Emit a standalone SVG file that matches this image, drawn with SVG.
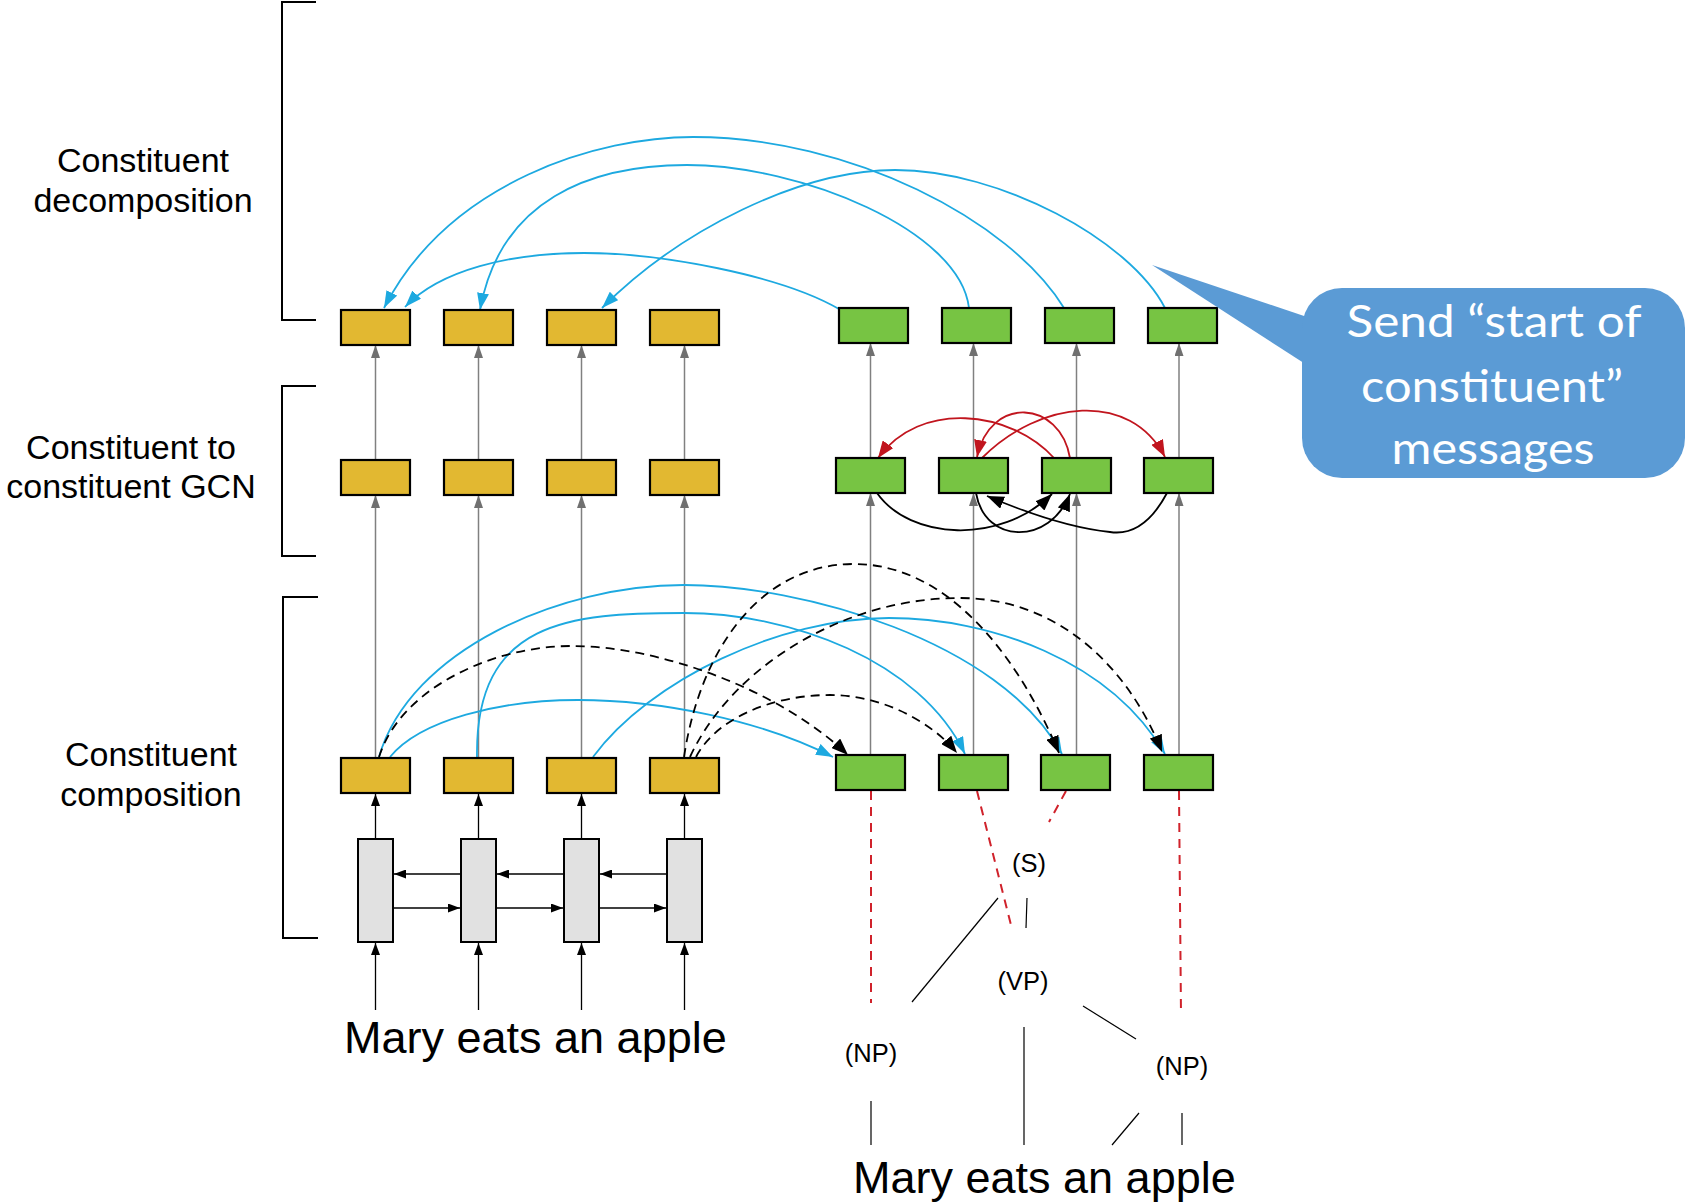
<svg xmlns="http://www.w3.org/2000/svg" width="1685" height="1202" viewBox="0 0 1685 1202">
<style>
.lbl{font-family:"Liberation Sans",Arial,sans-serif;font-size:34px;fill:#000;text-anchor:middle}
.words{font-family:"Liberation Sans",Arial,sans-serif;font-size:45px;fill:#000}
.tag{font-family:"Liberation Sans",Arial,sans-serif;font-size:25.5px;fill:#000;text-anchor:middle}
.call{font-family:Lato,"Open Sans",sans-serif;font-size:45px;fill:#fff;text-anchor:middle}
.yb{fill:#E2B831;stroke:#000;stroke-width:2.2}
.gb{fill:#77C443;stroke:#000;stroke-width:2.2}
.lstm{fill:#E1E1E1;stroke:#000;stroke-width:2}
.up{stroke:#808080;stroke-width:1.5;fill:none;marker-end:url(#ag)}
.blue{stroke:#1DA9E0;stroke-width:1.8;fill:none;marker-end:url(#ab)}
.dash{stroke:#000;stroke-width:1.8;fill:none;stroke-dasharray:9 6;marker-end:url(#ak)}
.red{stroke:#C1151E;stroke-width:1.8;fill:none;marker-end:url(#ar)}
.blk{stroke:#000;stroke-width:1.8;fill:none;marker-end:url(#ak)}
.thin{stroke:#000;stroke-width:1.3;fill:none;marker-end:url(#as)}
.tree{stroke:#000;stroke-width:1.2}
.rd{stroke:#D0222B;stroke-width:2;stroke-dasharray:9 7}
.brk{stroke:#000;stroke-width:2;fill:none}
</style>
<defs>
<marker id="ab" markerUnits="userSpaceOnUse" markerWidth="18" markerHeight="12" refX="17" refY="6" orient="auto"><path d="M0,0 L17,6 L0,12 z" fill="#1DA9E0"/></marker>
<marker id="ak" markerUnits="userSpaceOnUse" markerWidth="18" markerHeight="13" refX="17" refY="6.5" orient="auto"><path d="M0,0 L17,6.5 L0,13 z" fill="#000"/></marker>
<marker id="ar" markerUnits="userSpaceOnUse" markerWidth="18" markerHeight="13" refX="17" refY="6.5" orient="auto"><path d="M0,0 L17,6.5 L0,13 z" fill="#C1151E"/></marker>
<marker id="ag" markerUnits="userSpaceOnUse" markerWidth="13" markerHeight="9" refX="13" refY="4.5" orient="auto"><path d="M0,0 L13,4.5 L0,9 z" fill="#707070"/></marker>
<marker id="as" markerUnits="userSpaceOnUse" markerWidth="12" markerHeight="9" refX="12" refY="4.5" orient="auto"><path d="M0,0 L12,4.5 L0,9 z" fill="#000"/></marker>
</defs>

<!-- layer brackets and labels -->
<g id="layer-labels">
<path class="brk" d="M316,2 H282 V320 H316"/>
<path class="brk" d="M316,386 H282 V556 H316"/>
<path class="brk" d="M318,597 H283 V938 H318"/>
<text class="lbl" x="143" y="172">Constituent</text>
<text class="lbl" x="143" y="212">decomposition</text>
<text class="lbl" x="131" y="459">Constituent to</text>
<text class="lbl" x="131" y="498">constituent GCN</text>
<text class="lbl" x="151" y="766">Constituent</text>
<text class="lbl" x="151" y="806">composition</text>
</g>

<!-- connectors -->
<g id="connectors">
<!-- vertical feed-forward arrows -->
<line class="up" x1="375.5" y1="758" x2="375.5" y2="495"/>
<line class="up" x1="478.5" y1="758" x2="478.5" y2="495"/>
<line class="up" x1="581.5" y1="758" x2="581.5" y2="495"/>
<line class="up" x1="684.5" y1="758" x2="684.5" y2="495"/>
<line class="up" x1="375.5" y1="460" x2="375.5" y2="345"/>
<line class="up" x1="478.5" y1="460" x2="478.5" y2="345"/>
<line class="up" x1="581.5" y1="460" x2="581.5" y2="345"/>
<line class="up" x1="684.5" y1="460" x2="684.5" y2="345"/>
<line class="up" x1="870.5" y1="755" x2="870.5" y2="493"/>
<line class="up" x1="973.5" y1="755" x2="973.5" y2="493"/>
<line class="up" x1="1076.5" y1="755" x2="1076.5" y2="493"/>
<line class="up" x1="1179" y1="755" x2="1179" y2="493"/>
<line class="up" x1="870.5" y1="458" x2="870.5" y2="343"/>
<line class="up" x1="973.5" y1="458" x2="973.5" y2="343"/>
<line class="up" x1="1076.5" y1="458" x2="1076.5" y2="343"/>
<line class="up" x1="1179" y1="458" x2="1179" y2="343"/>

<!-- decomposition messages -->
<path class="blue" d="M1064,308 C1010,220 850,137 693,137 C600,137 450,180 384,308"/>
<path class="blue" d="M969,308 C960,230 800,165 687,165 C590,165 500,200 480,310"/>
<path class="blue" d="M1165,308 C1130,240 1000,170 895,170 C800,170 680,230 602,308"/>
<path class="blue" d="M839,309 C780,275 660,253 584,253 C510,253 440,270 405,307"/>

<!-- GCN edges -->
<path class="red" d="M1054,458 C1010,410 920,400 878,458"/>
<path class="red" d="M1070,458 C1060,400 990,395 977,457"/>
<path class="red" d="M982,458 C1040,400 1130,390 1165,457"/>
<path class="blk" d="M877,493 C910,540 1000,545 1052,494"/>
<path class="blk" d="M976,493 C985,545 1050,545 1070,494"/>
<path class="blk" d="M1167,493 C1150,525 1130,535 1110,532 C1070,528 1020,510 987,496"/>

<!-- composition messages -->
<path class="blue" d="M379,757 C410,650 560,585 684,585 C800,585 1000,640 1062,754"/>
<path class="blue" d="M477,757 C475,620 570,613 684,613 C790,613 920,660 965,754"/>
<path class="blue" d="M593,757 C650,680 780,618 889,618 C990,618 1110,660 1165,754"/>
<path class="blue" d="M390,757 C420,720 500,700 578,700 C660,700 760,720 833,757"/>
<path class="dash" d="M379,757 C400,690 490,646 572,646 C660,646 780,690 848,755"/>
<path class="dash" d="M684,757 C700,650 760,564 854,564 C950,564 1020,660 1059,753"/>
<path class="dash" d="M690,757 C730,670 840,598 960,598 C1060,598 1130,670 1162,752"/>
<path class="dash" d="M696,757 C715,720 770,695 830,695 C880,695 930,720 957,753"/>

<!-- BiLSTM arrows -->
<line class="thin" x1="375.5" y1="1010" x2="375.5" y2="943"/>
<line class="thin" x1="478.5" y1="1010" x2="478.5" y2="943"/>
<line class="thin" x1="581.5" y1="1010" x2="581.5" y2="943"/>
<line class="thin" x1="684.5" y1="1010" x2="684.5" y2="943"/>
<line class="thin" x1="375.5" y1="839" x2="375.5" y2="794"/>
<line class="thin" x1="478.5" y1="839" x2="478.5" y2="794"/>
<line class="thin" x1="581.5" y1="839" x2="581.5" y2="794"/>
<line class="thin" x1="684.5" y1="839" x2="684.5" y2="794"/>
<line class="thin" x1="461" y1="874" x2="394" y2="874"/>
<line class="thin" x1="564" y1="874" x2="497" y2="874"/>
<line class="thin" x1="667" y1="874" x2="600" y2="874"/>
<line class="thin" x1="393" y1="908" x2="460" y2="908"/>
<line class="thin" x1="496" y1="908" x2="563" y2="908"/>
<line class="thin" x1="599" y1="908" x2="666" y2="908"/>

<!-- constituent-to-tree links -->
<line class="rd" x1="871" y1="791" x2="871" y2="1003"/>
<line class="rd" x1="977" y1="791" x2="1012" y2="929"/>
<line class="rd" x1="1066" y1="791" x2="1049" y2="822"/>
<line class="rd" x1="1179" y1="791" x2="1181" y2="1015"/>

<!-- parse tree edges -->
<line class="tree" x1="998" y1="898" x2="912" y2="1002"/>
<line class="tree" x1="1027" y1="898" x2="1026" y2="928"/>
<line class="tree" x1="1083" y1="1006" x2="1136" y2="1039"/>
<line class="tree" x1="1024" y1="1027" x2="1024" y2="1145"/>
<line class="tree" x1="871" y1="1101" x2="871" y2="1145"/>
<line class="tree" x1="1139" y1="1113" x2="1112" y2="1145"/>
<line class="tree" x1="1182" y1="1113" x2="1182" y2="1145"/>
</g>

<!-- decomposition layer -->
<g id="dec-y1"><rect class="yb" x="341" y="310" width="69" height="35"/></g>
<g id="dec-y2"><rect class="yb" x="444" y="310" width="69" height="35"/></g>
<g id="dec-y3"><rect class="yb" x="547" y="310" width="69" height="35"/></g>
<g id="dec-y4"><rect class="yb" x="650" y="310" width="69" height="35"/></g>
<g id="dec-g1"><rect class="gb" x="839" y="308" width="69" height="35"/></g>
<g id="dec-g2"><rect class="gb" x="942" y="308" width="69" height="35"/></g>
<g id="dec-g3"><rect class="gb" x="1045" y="308" width="69" height="35"/></g>
<g id="dec-g4"><rect class="gb" x="1148" y="308" width="69" height="35"/></g>

<!-- GCN layer -->
<g id="gcn-y1"><rect class="yb" x="341" y="460" width="69" height="35"/></g>
<g id="gcn-y2"><rect class="yb" x="444" y="460" width="69" height="35"/></g>
<g id="gcn-y3"><rect class="yb" x="547" y="460" width="69" height="35"/></g>
<g id="gcn-y4"><rect class="yb" x="650" y="460" width="69" height="35"/></g>
<g id="gcn-g1"><rect class="gb" x="836" y="458" width="69" height="35"/></g>
<g id="gcn-g2"><rect class="gb" x="939" y="458" width="69" height="35"/></g>
<g id="gcn-g3"><rect class="gb" x="1042" y="458" width="69" height="35"/></g>
<g id="gcn-g4"><rect class="gb" x="1144" y="458" width="69" height="35"/></g>

<!-- composition layer -->
<g id="com-y1"><rect class="yb" x="341" y="758" width="69" height="35"/></g>
<g id="com-y2"><rect class="yb" x="444" y="758" width="69" height="35"/></g>
<g id="com-y3"><rect class="yb" x="547" y="758" width="69" height="35"/></g>
<g id="com-y4"><rect class="yb" x="650" y="758" width="69" height="35"/></g>
<g id="com-g1"><rect class="gb" x="836" y="755" width="69" height="35"/></g>
<g id="com-g2"><rect class="gb" x="939" y="755" width="69" height="35"/></g>
<g id="com-g3"><rect class="gb" x="1041" y="755" width="69" height="35"/></g>
<g id="com-g4"><rect class="gb" x="1144" y="755" width="69" height="35"/></g>

<!-- BiLSTM cells -->
<g id="lstm1"><rect class="lstm" x="358" y="839" width="35" height="103"/></g>
<g id="lstm2"><rect class="lstm" x="461" y="839" width="35" height="103"/></g>
<g id="lstm3"><rect class="lstm" x="564" y="839" width="35" height="103"/></g>
<g id="lstm4"><rect class="lstm" x="667" y="839" width="35" height="103"/></g>

<!-- sentences -->
<g id="sentence-left"><text class="words" x="344" y="1053">Mary eats an apple</text></g>
<g id="sentence-right"><text class="words" x="853" y="1193">Mary eats an apple</text></g>

<!-- parse tree labels -->
<g id="tree-s"><text class="tag" x="1029" y="872">(S)</text></g>
<g id="tree-vp"><text class="tag" x="1023" y="990">(VP)</text></g>
<g id="tree-np1"><text class="tag" x="871" y="1062">(NP)</text></g>
<g id="tree-np2"><text class="tag" x="1182" y="1075">(NP)</text></g>

<!-- callout -->
<g id="callout">
<path d="M1152,265 L1310,318 L1310,367 Z" fill="#5B9BD5"/>
<rect x="1302" y="288" width="383" height="190" rx="40" ry="40" fill="#5B9BD5"/>
<text class="call" x="1494" y="337" textLength="295" lengthAdjust="spacingAndGlyphs">Send “start of</text>
<text class="call" x="1492" y="402" textLength="262" lengthAdjust="spacingAndGlyphs">constituent”</text>
<text class="call" x="1493" y="464" textLength="203" lengthAdjust="spacingAndGlyphs">messages</text>
</g>
</svg>
